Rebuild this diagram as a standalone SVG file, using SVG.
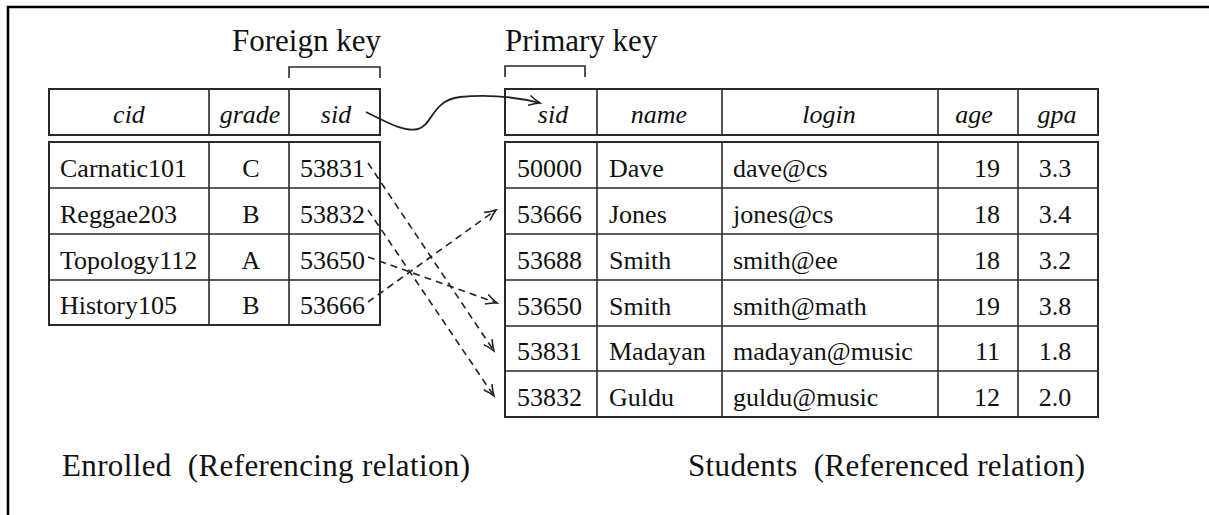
<svg xmlns="http://www.w3.org/2000/svg" width="1209" height="515" viewBox="0 0 1209 515">
<style>
.box{fill:#fff;stroke:#2a2a2a;stroke-width:2}
.ln{stroke:#2a2a2a;stroke-width:1.6;fill:none}
.t{font-family:"Liberation Serif","Times New Roman",serif;font-size:26px;fill:#111}
.h{font-family:"Liberation Serif","Times New Roman",serif;font-size:26px;font-style:italic;fill:#111;text-anchor:middle}
.c{text-anchor:middle}
.r{text-anchor:end}
.big{font-family:"Liberation Serif","Times New Roman",serif;font-size:31px;fill:#111}
.dash{fill:none;stroke:#222;stroke-width:1.6;stroke-dasharray:7 5}
.curve{fill:none;stroke:#222;stroke-width:1.8}
</style>
<defs>
<marker id="vh" markerUnits="userSpaceOnUse" viewBox="-12 -7 14 14" refX="0" refY="0" markerWidth="14" markerHeight="14" orient="auto">
<path d="M-11,-5 Q-5,-1.5 0,0 Q-5,1.5 -11,5" fill="none" stroke="#222" stroke-width="1.6" stroke-dasharray="none"/>
</marker>
</defs>
<rect width="1209" height="515" fill="#fff"/>
<g id="frame">
<path d="M8,515 L8,7 L1209,7" fill="none" stroke="#000" stroke-width="2.6"/>
</g>
<g id="labels">
<text class="big" x="232" y="51">Foreign key</text>
<text class="big" x="505" y="51">Primary key</text>
<path class="ln" d="M289,78 L289,67 L380,67 L380,78"/>
<path class="ln" d="M505,77 L505,66 L585,66 L585,77"/>
<text class="big" x="62" y="476" xml:space="preserve" textLength="408">Enrolled  (Referencing relation)</text>
<text class="big" x="688" y="476" xml:space="preserve" textLength="397">Students  (Referenced relation)</text>
</g>
<g id="enrolled">
<rect class="box" x="49" y="89" width="331" height="46"/>
<path class="ln" d="M209,89 V135 M289,89 V135"/>
<text class="h" x="129" y="123">cid</text>
<text class="h" x="250" y="123">grade</text>
<text class="h" x="336" y="123">sid</text>
<rect class="box" x="49" y="142" width="331" height="183"/>
<path class="ln" d="M209,142 V325 M289,142 V325 M49,188 H380 M49,234 H380 M49,280 H380"/>
<text class="t" x="60" y="177">Carnatic101</text>
<text class="t c" x="251" y="177">C</text>
<text class="t" x="300" y="177">53831</text>
<text class="t" x="60" y="223">Reggae203</text>
<text class="t c" x="251" y="223">B</text>
<text class="t" x="300" y="223">53832</text>
<text class="t" x="60" y="269">Topology112</text>
<text class="t c" x="251" y="269">A</text>
<text class="t" x="300" y="269">53650</text>
<text class="t" x="60" y="314">History105</text>
<text class="t c" x="251" y="314">B</text>
<text class="t" x="300" y="314">53666</text>
</g>
<g id="students">
<rect class="box" x="505" y="89" width="593" height="46"/>
<path class="ln" d="M597,89 V135 M722,89 V135 M938,89 V135 M1018,89 V135"/>
<text class="h" x="553" y="123">sid</text>
<text class="h" x="659" y="123">name</text>
<text class="h" x="829" y="123">login</text>
<text class="h" x="974" y="123">age</text>
<text class="h" x="1057" y="123">gpa</text>
<rect class="box" x="505" y="142" width="593" height="275"/>
<path class="ln" d="M597,142 V417 M722,142 V417 M938,142 V417 M1018,142 V417 M505,188 H1098 M505,234 H1098 M505,280 H1098 M505,326 H1098 M505,371 H1098"/>
<text class="t" x="517" y="177">50000</text>
<text class="t" x="609" y="177">Dave</text>
<text class="t" x="733" y="177">dave@cs</text>
<text class="t r" x="1000" y="177">19</text>
<text class="t c" x="1055" y="177">3.3</text>
<text class="t" x="517" y="223">53666</text>
<text class="t" x="609" y="223">Jones</text>
<text class="t" x="733" y="223">jones@cs</text>
<text class="t r" x="1000" y="223">18</text>
<text class="t c" x="1055" y="223">3.4</text>
<text class="t" x="517" y="269">53688</text>
<text class="t" x="609" y="269">Smith</text>
<text class="t" x="733" y="269">smith@ee</text>
<text class="t r" x="1000" y="269">18</text>
<text class="t c" x="1055" y="269">3.2</text>
<text class="t" x="517" y="315">53650</text>
<text class="t" x="609" y="315">Smith</text>
<text class="t" x="733" y="315">smith@math</text>
<text class="t r" x="1000" y="315">19</text>
<text class="t c" x="1055" y="315">3.8</text>
<text class="t" x="517" y="360">53831</text>
<text class="t" x="609" y="360">Madayan</text>
<text class="t" x="733" y="360">madayan@music</text>
<text class="t r" x="1000" y="360">11</text>
<text class="t c" x="1055" y="360">1.8</text>
<text class="t" x="517" y="406">53832</text>
<text class="t" x="609" y="406">Guldu</text>
<text class="t" x="733" y="406">guldu@music</text>
<text class="t r" x="1000" y="406">12</text>
<text class="t c" x="1055" y="406">2.0</text>
</g>
<g id="connectors">
<path class="curve" d="M366,112 C390,124 405,132 418,129 C432,126 432,100 460,97 C490,94 520,98 540,103" marker-end="url(#vh)"/>
<path class="dash" d="M368,163 L494,351" marker-end="url(#vh)"/>
<path class="dash" d="M368,210 L494,396" marker-end="url(#vh)"/>
<path class="dash" d="M368,257 L497,303" marker-end="url(#vh)"/>
<path class="dash" d="M368,302 L496,210" marker-end="url(#vh)"/>
</g>
</svg>
